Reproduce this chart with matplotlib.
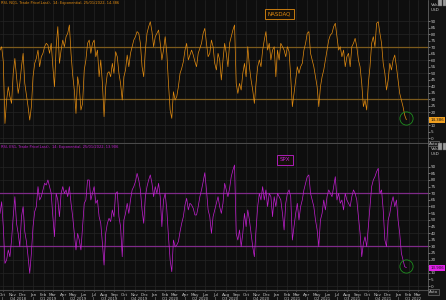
import numpy as np
import pandas as pd
import matplotlib
matplotlib.use("Agg")
import matplotlib.pyplot as plt
from matplotlib.ticker import FixedLocator, FuncFormatter

# RSI readings, sampled about every 5 days, 23 Sep 2018 -> 25 Jan 2022
nasdaq_rsi = [
    67.9, 70.5, 59.0, 11.5, 29.5, 39.7, 32.1, 26.9, 50.0, 61.5, 47.4, 34.6, 42.3, 55.1, 65.4, 42.3,
    33.3, 24.4, 14.1, 24.4, 47.4, 57.7, 61.5, 67.9, 55.1, 62.8, 65.4, 70.5, 73.1, 71.8, 65.4, 73.1,
    55.1, 39.7, 70.5, 85.9, 57.7, 67.9, 75.6, 70.5, 78.2, 80.8, 87.2, 65.4, 48.7, 37.2, 19.2, 47.4,
    39.7, 21.8, 26.9, 52.6, 60.3, 73.1, 75.6, 65.4, 73.1, 75.6, 62.8, 67.9, 47.4, 60.3, 42.3, 16.7,
    39.7, 50.0, 51.3, 47.4, 57.7, 50.0, 66.7, 62.8, 50.0, 42.3, 29.5, 47.4, 52.6, 64.1, 55.1, 65.4,
    70.5, 75.6, 78.2, 82.1, 80.8, 73.1, 55.1, 47.4, 67.9, 80.8, 85.9, 89.7, 82.1, 70.5, 78.2, 80.8,
    83.3, 73.1, 60.3, 67.9, 78.2, 65.4, 42.3, 21.8, 15.4, 35.9, 29.5, 32.1, 39.7, 50.0, 53.8, 59.0,
    67.9, 73.1, 60.3, 64.1, 67.9, 64.1, 59.0, 55.1, 65.4, 69.2, 73.1, 80.8, 84.6, 73.1, 62.8, 65.4,
    75.6, 70.5, 57.7, 52.6, 65.4, 60.3,
    44.9, 60.3, 73.1, 65.4, 55.1, 73.1, 78.2, 83.3, 87.2, 42.3, 34.6, 42.3, 37.2, 50.0, 57.7, 47.4,
    70.5, 55.1, 44.9, 37.2, 26.9, 42.3, 55.1, 60.3, 55.1, 67.9, 75.6, 82.1, 67.9, 73.1, 60.3, 67.9,
    70.5, 47.4, 67.9, 60.3, 73.1, 70.5, 67.9, 62.8, 70.5, 66.7, 47.4, 24.4, 34.6, 44.9, 55.1, 50.0,
    55.1, 57.7, 67.9, 73.1, 80.8, 82.1, 65.4, 60.3, 55.1, 47.4, 39.7, 24.4, 39.7, 47.4, 52.6, 60.3,
    67.9, 75.6, 79.5, 80.8, 85.9, 88.5, 78.2, 67.9, 70.5, 62.8, 67.9, 55.1, 62.8, 65.4, 55.1, 70.5,
    73.1, 76.9, 70.5, 60.3, 55.1, 42.3, 24.4, 29.5, 21.8, 42.3, 55.1, 73.1, 78.2, 70.5, 88.5, 89.7,
    80.8, 73.1, 57.7, 50.0, 37.2, 44.9, 57.7, 52.6, 60.3, 64.1, 55.1, 44.9, 34.6, 29.5, 24.4, 17.9,
    14.386,
]
spx_rsi = [
    54.8, 63.6, 44.8, 17.1, 19.6, 27.2, 22.1, 34.7, 52.3, 67.4, 47.3, 39.7, 29.7, 52.3, 59.9, 41.0,
    33.5, 22.1, 9.6, 24.7, 44.8, 56.1, 59.9, 75.0, 64.9, 67.4, 72.5, 77.5, 76.2, 80.0, 75.0, 69.9,
    52.3, 37.2, 69.9, 64.9, 52.3, 69.9, 75.0, 69.9, 72.5, 67.4, 75.0, 62.4, 52.3, 39.7, 27.2, 39.7,
    34.7, 27.2, 44.8, 62.4, 64.9, 80.0, 80.0, 64.9, 69.9, 75.0, 62.4, 64.9, 52.3, 47.3, 32.2, 15.8,
    39.7, 47.3, 51.1, 48.6, 57.4, 52.3, 69.9, 71.2, 52.3, 44.8, 22.1, 49.8, 54.8, 62.4, 54.8, 64.9,
    72.5, 75.0, 78.7, 85.0, 80.0, 72.5, 57.4, 47.3, 67.4, 75.0, 80.0, 83.8, 77.5, 67.4, 75.0, 69.9,
    77.5, 67.4, 44.8, 64.9, 69.9, 57.4, 37.2, 19.6, 10.8, 34.7, 29.7, 30.9, 33.5, 41.0, 47.3, 52.3,
    61.1, 66.2, 57.4, 62.4, 61.1, 58.6, 53.6, 53.6, 59.9, 67.4, 72.5, 78.7, 85.5, 72.5, 57.4, 52.3,
    39.7, 52.3, 57.4, 62.4, 67.4, 59.9,
    54.8, 62.4, 77.5, 72.5, 67.4, 73.7, 82.5, 87.5, 91.3, 39.7, 34.7, 42.3, 29.7, 39.7, 54.8, 44.8,
    57.4, 49.8, 39.7, 29.7, 22.1, 42.3, 59.9, 69.9, 64.9, 75.0, 64.9, 72.5, 59.9, 69.9, 67.4, 52.3,
    67.4, 59.9, 69.9, 67.4, 64.9, 54.8, 42.3, 62.4, 69.9, 72.5, 67.4, 34.7, 44.8, 54.8, 62.4, 49.8,
    59.9, 64.9, 72.5, 77.5, 82.5, 83.8, 69.9, 64.9, 59.9, 49.8, 42.3, 29.7, 49.8, 54.8, 64.9, 57.4,
    67.4, 72.5, 69.9, 67.4, 75.0, 82.5, 64.9, 69.9, 62.4, 64.9, 57.4, 69.9, 64.9, 62.4, 59.9, 67.4,
    72.5, 69.9, 64.9, 52.3, 39.7, 22.1, 32.2, 37.2, 29.7, 44.8, 59.9, 75.0, 80.0, 82.5, 86.3, 88.8,
    69.9, 72.5, 57.4, 34.7, 29.7, 49.8, 54.8, 62.4, 67.4, 59.9, 64.9, 49.8, 39.7, 24.7, 19.6, 14.6,
    13.906,
]
dates = pd.date_range("2018-09-23", "2022-01-25", periods=len(nasdaq_rsi))
upper_band, lower_band = 70, 30
major_ticks = list(range(0, 91, 10))
minor_ticks = list(range(5, 90, 10))
headers = [
    "RSI, NQ1, Trade Price(Last),  14: Exponential, 25/01/2022, 14.386",
    "RSI, ES1, Trade Price(Last),  14: Exponential, 25/01/2022, 13.906",
]
names = ["NASDAQ", "SPX"]

BG = "#0e0e0e"
GRID = "#242424"
TXT = "#c4c4c4"
line_cols = ["#e38c10", "#c21fd0"]
band_cols = ["#7c5a1c", "#7e2a88"]
tag_cols = ["#f0a020", "#e020e8"]

fig = plt.figure(figsize=(4.46, 3.0), dpi=100, facecolor="#121212")
ax_top = fig.add_axes([0, 0.523, 0.9596, 0.477])
ax_bot = fig.add_axes([0, 0.0333, 0.9596, 0.487], sharex=ax_top)
axes = [ax_top, ax_bot]
series = [nasdaq_rsi, spx_rsi]
ylims = [(-3.6, 106.4), (-3.0, 107.2)]
box_pos = [(0.652, 0.902), (0.665, 0.89)]

months = pd.date_range("2018-10-01", "2022-03-01", freq="MS")


def make_fmt(last):
    # the last-value tag hides the tick label it sits on
    return FuncFormatter(lambda v, p: "" if abs(v - last) < 3.5 else f"{v:.0f}")


for i, ax in enumerate(axes):
    vals = series[i]
    ax.set_facecolor(BG)
    for m in months:
        ax.axvline(m, color=GRID, lw=0.5, zorder=0)
    ax.set_ylim(*ylims[i])
    ax.yaxis.set_major_locator(FixedLocator(major_ticks))
    ax.yaxis.set_minor_locator(FixedLocator(minor_ticks))
    ax.yaxis.set_minor_formatter(make_fmt(vals[-1]))
    ax.yaxis.set_major_formatter(make_fmt(vals[-1]))
    ax.grid(axis="y", which="major", color=GRID, lw=0.5)
    ax.set_axisbelow(True)
    ax.yaxis.tick_right()
    ax.tick_params(axis="y", which="both", colors=TXT, labelsize=3, length=1.2, width=0.4, pad=1)
    ax.axhline(upper_band, color=band_cols[i], lw=0.9, zorder=2)
    ax.axhline(lower_band, color=band_cols[i], lw=0.9, zorder=2)
    ax.plot(dates, vals, color=line_cols[i], lw=0.5, zorder=3)
    # green circle around the latest reading
    ax.plot(dates[-1], vals[-1] + 1.5, marker="o", ms=9.5, mfc="none", mec="#1f8f1f", mew=0.6, zorder=4)
    for s in ["top", "left"]:
        ax.spines[s].set_visible(False)
    ax.spines["right"].set_color("#707070")
    ax.spines["right"].set_linewidth(0.5)
    ax.spines["bottom"].set_color("#4a4a4a")
    ax.spines["bottom"].set_linewidth(0.8)
    ax.text(0.003, 0.992, headers[i], transform=ax.transAxes, va="top", ha="left",
            fontsize=2.6, color=line_cols[i])
    ax.text(box_pos[i][0], box_pos[i][1], names[i], transform=ax.transAxes, ha="center", va="center",
            fontsize=4, color=line_cols[i],
            bbox=dict(boxstyle="square,pad=0.5", fc="#14100a", ec=line_cols[i], lw=0.6))
    ax.annotate(f"{vals[-1]:.3f}", xy=(1.0, vals[-1]), xycoords=("axes fraction", "data"),
                xytext=(1.5, 0), textcoords="offset points", ha="left", va="center",
                fontsize=2.8, color="#111111", annotation_clip=False,
                bbox=dict(boxstyle="square,pad=0.25", fc=tag_cols[i], ec="none"))
    ax.text(1.006, 0.962, "Value", transform=ax.transAxes, fontsize=3, color=TXT, va="center")
    ax.text(1.006, 0.93, "USD", transform=ax.transAxes, fontsize=3, color=TXT, va="center")

ax_top.tick_params(axis="x", bottom=False, labelbottom=False)
ax_bot.set_xlim(pd.Timestamp("2018-09-23"), pd.Timestamp("2022-03-31"))
ax_bot.set_xticks(months)
ax_bot.set_xticklabels([m.strftime("%b") for m in months])
ax_bot.tick_params(axis="x", colors=TXT, labelsize=3, length=1, width=0.4, pad=0.8)

quarters = pd.date_range("2018-10-01", "2022-01-01", freq="QS")
for q in quarters:
    ax_bot.text(q + pd.Timedelta(days=45), -0.058, f"Q{q.quarter} {q.year}", transform=ax_bot.get_xaxis_transform(),
                ha="center", va="center", fontsize=2.7, color=TXT)
    ax_bot.text(q, -0.058, "|", transform=ax_bot.get_xaxis_transform(),
                ha="center", va="center", fontsize=2.7, color=TXT)

for y in [0.521, 0.026]:
    fig.text(0.972, y, "Auto", fontsize=2.8, color=TXT, ha="center", va="center",
             bbox=dict(boxstyle="square,pad=0.2", fc="#1c1c1c", ec="#808080", lw=0.4))
for y in [0.992, 0.512]:
    for x in [0.987, 0.997]:
        fig.text(x, y, " ", fontsize=2.5, ha="center", va="center",
                 bbox=dict(boxstyle="square,pad=0.35", fc="#9a9a9a", ec="#555555", lw=0.3))

fig.savefig("out.png", dpi=100, facecolor=fig.get_facecolor())
